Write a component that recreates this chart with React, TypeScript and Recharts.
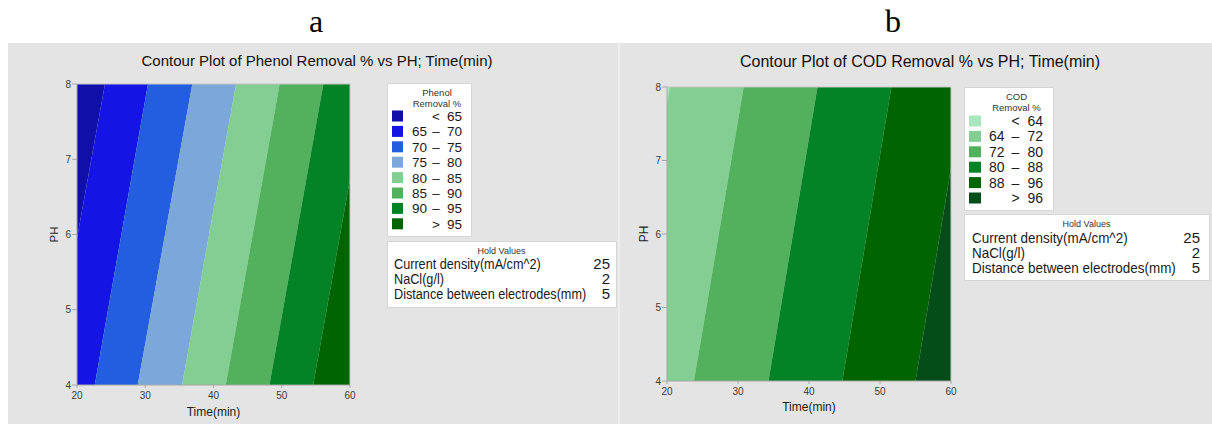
import React from 'react';
import { ComposedChart, Area, XAxis, YAxis, ReferenceLine } from 'recharts';

// ---------- data ----------
const timeTicks = [20, 30, 40, 50, 60];
const phTicks = [4, 5, 6, 7, 8];
const phEnds = [4, 8];

// Phenol removal % contour levels and boundary positions (Time at PH=4 and PH=8)
const phenolLevels = [65, 70, 75, 80, 85, 90, 95];
const phenolAtPH4 = [16.1, 22.6, 28.9, 35.4, 41.8, 48.2, 54.6];
const phenolAtPH8 = [24.1, 30.4, 36.9, 43.3, 49.7, 56.1, 62.5];
const phenolColors = ['#1010a8', '#1414e4', '#245ee0', '#7ca7d9', '#83cf93', '#53b05c', '#038226', '#006400'];

// COD removal % contour levels and boundary positions
const codLevels = [64, 72, 80, 88, 96];
const codAtPH4 = [13.5, 23.8, 34.3, 44.7, 55.0];
const codAtPH8 = [20.4, 30.8, 41.2, 51.6, 61.9];
const codColors = ['#a8e6bd', '#83cf93', '#53b05c', '#038226', '#006400', '#044d18'];

const holdNames = ['Current density(mA/cm^2)', 'NaCl(g/l)', 'Distance between electrodes(mm)'];
const holdValues = ['25', '2', '5'];

// ---------- helpers ----------
function buildBands(at4: number[], at8: number[]) {
  return phEnds.map((ph, r) => {
    const b = r === 0 ? at4 : at8;
    const row: Record<string, number> = { ph };
    for (let i = 0; i <= b.length; i++) {
      const lo = i === 0 ? 0 : b[i - 1];
      const hi = i === b.length ? 100 : b[i];
      row['band' + i] = hi - lo;
    }
    return row;
  });
}

function levelLabels(levels: number[]) {
  const out: { lo: string; mid: string; hi: string }[] = [];
  out.push({ lo: '', mid: '<', hi: String(levels[0]) });
  for (let i = 1; i < levels.length; i++) out.push({ lo: String(levels[i - 1]), mid: '–', hi: String(levels[i]) });
  out.push({ lo: '', mid: '>', hi: String(levels[levels.length - 1]) });
  return out;
}

const FONT = "'Liberation Sans', Arial, Helvetica, sans-serif";

type PanelProps = {
  left: number; top: number; width: number; height: number;
  margin: { top: number; right: number; bottom: number; left: number };
  data: Record<string, number>[]; colors: string[]; labelOffset: number;
};

function Panel({ left, top, width, height, margin, data, colors, labelOffset }: PanelProps) {
  return (
    <div style={{ position: 'absolute', left, top, width, height }}>
      <ComposedChart layout="vertical" width={width} height={height} data={data} margin={margin}>
        <XAxis
          type="number" domain={[20, 60]} ticks={timeTicks} interval={0} allowDataOverflow
          height={34} tickSize={3} tickMargin={4} stroke="#a6a6a6"
          tick={{ fontSize: 10, fill: '#3c3c3c', fontFamily: FONT }}
          label={{ value: 'Time(min)', position: 'insideBottom', offset: labelOffset, fontSize: 12, fill: '#1e1e1e', fontFamily: FONT }}
        />
        <YAxis
          type="number" dataKey="ph" domain={[4, 8]} ticks={phTicks} interval={0} allowDataOverflow reversed
          width={32} tickSize={5} tickMargin={1} stroke="#a6a6a6"
          tick={{ fontSize: 10, fill: '#3c3c3c', fontFamily: FONT }}
        />
        {colors.map((c, i) => (
          <Area
            key={i} type="linear" dataKey={'band' + i} stackId="s" fill={c} fillOpacity={1}
            stroke="none" dot={false} activeDot={false} isAnimationActive={false}
          />
        ))}
        <ReferenceLine x={60} stroke="#c4c4c4" />
        <ReferenceLine y={8} stroke="#c4c4c4" />
      </ComposedChart>
    </div>
  );
}

type LegendProps = {
  x: number; y: number; w: number; h: number; title: string; labels: { lo: string; mid: string; hi: string }[];
  colors: string[]; rowY: number; rowStep: number; swX: number; swW: number; loX: number; midX: number; hiX: number;
  fs: number;
};

function ContourLegend(p: LegendProps) {
  const cx = p.x + p.w / 2 + 8;
  return (
    <g fontFamily={FONT}>
      <rect x={p.x + 0.5} y={p.y + 0.5} width={p.w} height={p.h} fill="#fff" stroke="#d6d6d6" />
      <text x={cx} y={p.y + 13} fontSize={9.5} textAnchor="middle" fill="#333">{p.title}</text>
      <text x={cx} y={p.y + 23.5} fontSize={9.5} textAnchor="middle" fill="#333">Removal %</text>
      {p.labels.map((l, i) => {
        const cy = p.rowY + i * p.rowStep;
        return (
          <g key={i}>
            <rect x={p.swX} y={cy - 5.5} width={p.swW} height={11} fill={p.colors[i]} />
            <text x={p.loX} y={cy + 4.9} fontSize={p.fs} fill="#1a1a1a">{l.lo}</text>
            <text x={p.midX} y={cy + 4.9} fontSize={p.fs} textAnchor="middle" fill="#1a1a1a">{l.mid}</text>
            <text x={p.hiX} y={cy + 4.9} fontSize={p.fs} textAnchor="end" fill="#1a1a1a">{l.hi}</text>
          </g>
        );
      })}
    </g>
  );
}

type HoldProps = { x: number; y: number; w: number; h: number; textX: number; valX: number; base: number; step: number; sx: number };

function HoldBox(p: HoldProps) {
  return (
    <g fontFamily={FONT}>
      <rect x={p.x + 0.5} y={p.y + 0.5} width={p.w} height={p.h} fill="#fff" stroke="#d6d6d6" />
      <text x={p.x + p.w / 2} y={p.y + 13} fontSize={9} textAnchor="middle" fill="#333">Hold Values</text>
      {holdNames.map((n, i) => (
        <g key={i}>
          <g transform={`translate(${p.textX} 0) scale(${p.sx} 1)`}>
            <text x={0} y={p.base + i * p.step} fontSize={15} fill="#1a1a1a">{n}</text>
          </g>
          <text x={p.valX} y={p.base + i * p.step} fontSize={15} textAnchor="end" fill="#1a1a1a">{holdValues[i]}</text>
        </g>
      ))}
    </g>
  );
}

export default function App() {
  const phenolData = buildBands(phenolAtPH4, phenolAtPH8);
  const codData = buildBands(codAtPH4, codAtPH8);
  return (
    <div style={{ position: 'fixed', left: 0, top: 0, width: 1212, height: 424, background: '#fff', overflow: 'hidden' }}>
      <div style={{ position: 'absolute', left: 8, top: 43, width: 1204, height: 381, background: '#e4e4e4' }} />
      <div style={{ position: 'absolute', left: 618, top: 43, width: 2, height: 381, background: '#eeeeee' }} />
      <Panel
        left={8} top={43} width={611} height={381}
        margin={{ top: 41, right: 269, bottom: 5, left: 37 }}
        data={phenolData} colors={phenolColors} labelOffset={3}
      />
      <Panel
        left={619} top={43} width={593} height={381}
        margin={{ top: 44, right: 261, bottom: 9, left: 16 }}
        data={codData} colors={codColors} labelOffset={4}
      />
      <svg width={1212} height={424} style={{ position: 'absolute', left: 0, top: 0, pointerEvents: 'none' }}>
        <text x={316} y={32} fontSize={32} textAnchor="middle" fontFamily="'Liberation Serif', 'Times New Roman', serif" fill="#000">a</text>
        <text x={893} y={32} fontSize={32} textAnchor="middle" fontFamily="'Liberation Serif', 'Times New Roman', serif" fill="#000">b</text>
        <text x={317} y={66} fontSize={15} textAnchor="middle" fontFamily={FONT} fill="#111">Contour Plot of Phenol Removal % vs PH; Time(min)</text>
        <text x={920} y={67} fontSize={16} textAnchor="middle" fontFamily={FONT} fill="#111">Contour Plot of COD Removal % vs PH; Time(min)</text>
        <text transform="translate(58 234.5) rotate(-90)" fontSize={11.5} textAnchor="middle" fontFamily={FONT} fill="#1e1e1e">PH</text>
        <text transform="translate(648 234) rotate(-90)" fontSize={12} textAnchor="middle" fontFamily={FONT} fill="#1e1e1e">PH</text>
        <ContourLegend
          x={387} y={83} w={84} h={153} title="Phenol" labels={levelLabels(phenolLevels)} colors={phenolColors}
          rowY={116} rowStep={15.4} swX={392} swW={11} loX={412} midX={436} hiX={462} fs={13.5}
        />
        <HoldBox x={387} y={241} w={229} h={66} textX={394} valX={610} base={269} step={15.2} sx={0.845} />
        <ContourLegend
          x={964} y={87} w={89} h={123} title="COD" labels={levelLabels(codLevels)} colors={codColors}
          rowY={121} rowStep={15.4} swX={969} swW={12} loX={989} midX={1015.5} hiX={1043} fs={14}
        />
        <HoldBox x={964} y={214} w={245} h={66} textX={972} valX={1200} base={243.3} step={15} sx={0.896} />
      </svg>
    </div>
  );
}
